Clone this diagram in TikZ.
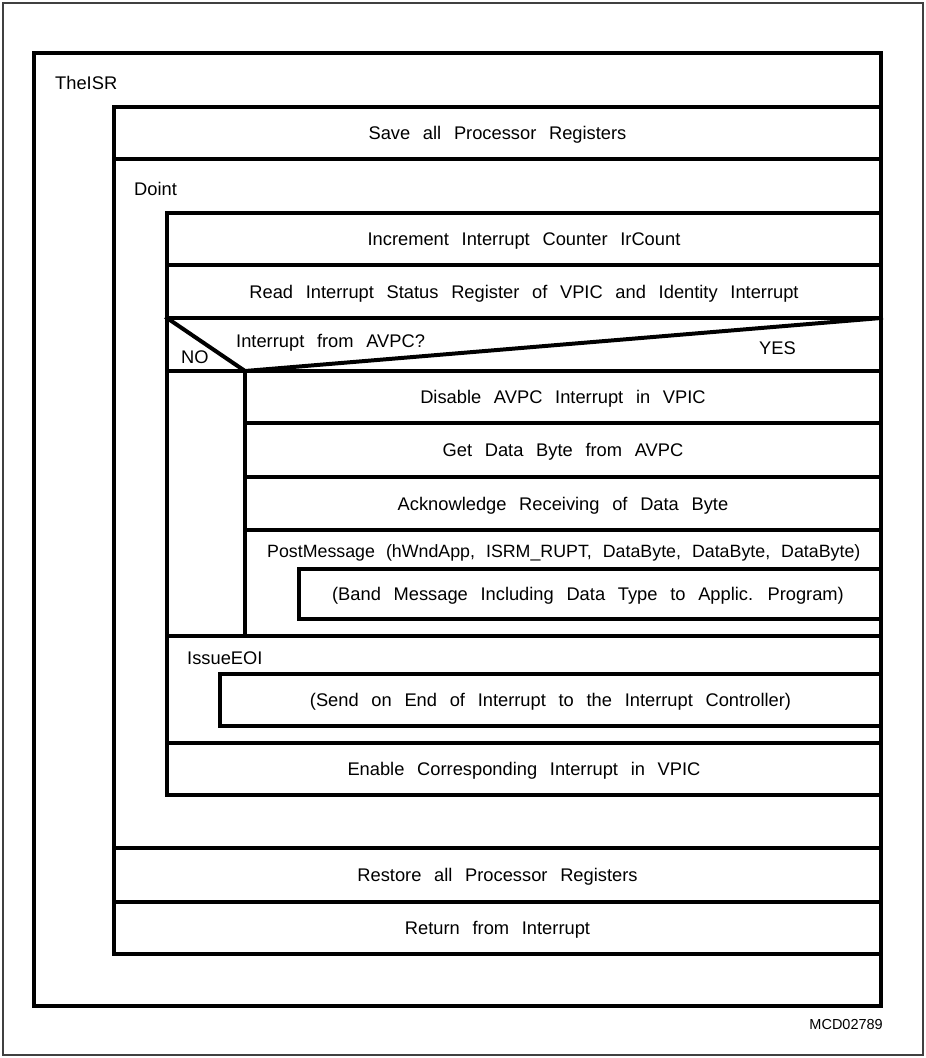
\documentclass[tikz,border=0pt]{standalone}
\usepackage{fontspec}
\setmainfont{Liberation Sans}[WordSpace=2.5]
\begin{document}
\begin{tikzpicture}[x=1pt, y=-1pt,
  struct/.style={line width=4pt, line join=miter, line cap=rect},
  frame/.style={line width=1.3pt, black!75},
  txt/.style={font=\fontsize{18.3}{22}\selectfont, inner sep=0pt},
  lbl/.style={txt, anchor=base west},
  rowtext/.style={txt, anchor=base},
  tag/.style={font=\fontsize{14.5}{17}\selectfont, inner sep=0pt, anchor=base east}]
\useasboundingbox (0,0) rectangle (926,1058);
\draw[frame] (3,3) rectangle (923,1055);

% level 1: TheISR
\draw[struct] (34,53) rectangle (881,1006);
% level 2: save / Doint / restore / return
\draw[struct] (114,107) rectangle (881,954);
\draw[struct] (114,159) -- (881,159);
\draw[struct] (114,848) -- (881,848);
\draw[struct] (114,902) -- (881,902);
% level 3: Doint body
\draw[struct] (167,213) rectangle (881,795);
\draw[struct] (167,265) -- (881,265);
\draw[struct] (167,318) -- (881,318);
\draw[struct] (167,371) -- (881,371);
\draw[struct] (167,636) -- (881,636);
\draw[struct] (167,743) -- (881,743);
% decision triangle
\draw[struct] (167,318) -- (245,371) -- (881,318);
% YES branch
\draw[struct] (245,371) -- (245,636);
\draw[struct] (245,423) -- (881,423);
\draw[struct] (245,477) -- (881,477);
\draw[struct] (245,530) -- (881,530);
% called procedures
\draw[struct] (299,569) rectangle (881,619);
\draw[struct] (220,674) rectangle (881,726);

% labels
\node[lbl] (theisr) at (55,89) {TheISR};
\node[lbl] (doint) at (134,195) {Doint};
\node[rowtext] (save) at (497.5,139) {Save all Processor Registers};
\node[rowtext] (incr) at (524,245.5) {Increment Interrupt Counter IrCount};
\node[rowtext] (read) at (524,298) {Read Interrupt Status Register of VPIC and Identity Interrupt};
\node[lbl] (cond) at (236,347) {Interrupt from AVPC?};
\node[lbl] (no) at (181,363) {NO};
\node[lbl] (yes) at (759,354) {YES};
\node[rowtext] (dis) at (563,403.5) {Disable AVPC Interrupt in VPIC};
\node[rowtext] (get) at (563,456.5) {Get Data Byte from AVPC};
\node[rowtext] (ack) at (563,510) {Acknowledge Receiving of Data Byte};
\node[lbl, font=\fontsize{17.8}{22}\selectfont] (post) at (267,557)
  {\spaceskip=11pt plus 1pt\relax PostMessage (hWndApp, ISRM\_RUPT, DataByte, DataByte, DataByte)};
\node[rowtext] (band) at (588,600.5) {(Band Message Including Data Type to Applic. Program)};
\node[lbl] (eoi) at (187,664) {IssueEOI};
\node[rowtext] (send) at (550.5,706.5) {(Send on End of Interrupt to the Interrupt Controller)};
\node[rowtext] (enable) at (524,775.5) {Enable Corresponding Interrupt in VPIC};
\node[rowtext] (restore) at (497.5,881.5) {Restore all Processor Registers};
\node[rowtext] (ret) at (497.5,934.5) {Return from Interrupt};
\node[tag] (id) at (883,1029) {MCD02789};
\end{tikzpicture}
\end{document}
